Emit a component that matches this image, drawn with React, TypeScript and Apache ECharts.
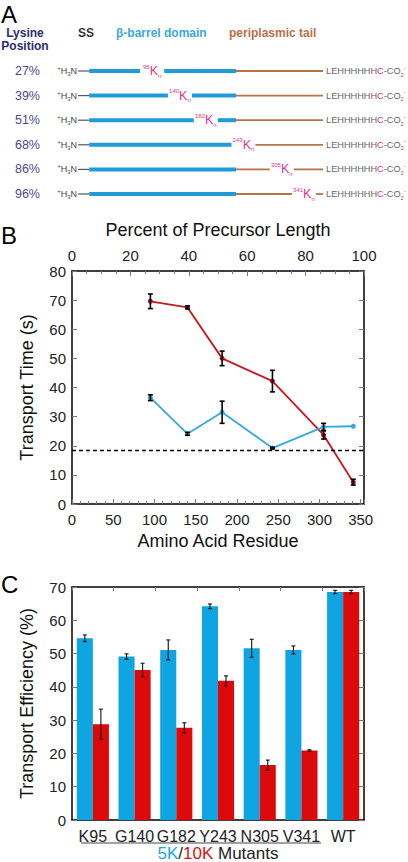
import React, { useEffect, useRef } from 'react';
import * as echarts from 'echarts';

const FONT = '"Liberation Sans", Arial, Helvetica, sans-serif';

// Panel A: lysine placement schematic
const lysinePositions = ['27%', '39%', '51%', '68%', '86%', '96%'];
const lysineResidues = [95, 140, 182, 243, 305, 341];
// schematic segment boundaries on the residue axis
const ssStart = -25;
const barrelStart = -7;
const barrelEnd = 231;
const tailEnd = 372;

// Panel B: transport time vs lysine position
const residues = [95, 140, 182, 243, 305, 341];
const time10K = [69.6, 67.5, 50.0, 42.2, 23.7, 7.5];
const err10K = [2.5, 0.5, 2.5, 3.7, 1.4, 1.0];
const time5K = [36.5, 24.1, 31.5, 19.2, 26.5, 26.7];
const err5K = [1.0, 0.5, 3.8, 0.3, 1.2, 0];
const wtBaseline = 18.4;

// Panel C: transport efficiency
const mutants = ['K95', 'G140', 'G182', 'Y243', 'N305', 'V341', 'WT'];
const eff5K = [54.6, 49.1, 51.1, 64.2, 51.6, 51.1, 68.5];
const effErr5K = [1.0, 0.8, 3.0, 0.7, 2.7, 1.2, 0.5];
const eff10K = [28.8, 45.1, 27.7, 41.8, 16.5, 20.9, 68.5];
const effErr10K = [4.5, 2.0, 1.5, 1.5, 1.5, 0.2, 0.5];

const BLUE_A = '#1f9bd8';
const BROWN = '#b7714b';
const MAGENTA = '#e0338a';
const RED_LINE = '#c8181e';
const BLUE_LINE = '#35a8de';
const BLUE_BAR = '#0ea5e2';
const RED_BAR = '#dc0a0a';
const BAR_GAP = 0.23;

function cut(a0: number, a1: number, g0: number, g1: number) {
  const out: number[][] = [];
  if (g0 > a0) out.push([a0, Math.min(a1, g0)]);
  if (g1 < a1) out.push([Math.max(a0, g1), a1]);
  return out.filter((s) => s[1] > s[0]);
}

const axisBase = {
  axisLine: { show: true, onZero: false, lineStyle: { color: '#000', width: 1.5 } },
  axisTick: { show: true, inside: true, length: 5, lineStyle: { color: '#777', width: 1 } },
  axisLabel: { color: '#222', fontSize: 15, fontFamily: FONT },
  splitLine: { show: false },
  nameTextStyle: { color: '#111', fontSize: 18, fontFamily: FONT },
};

export default function App() {
  const ref = useRef<HTMLDivElement>(null);
  useEffect(() => {
    if (!ref.current) return;
    const chart = echarts.init(ref.current, null, { renderer: 'svg' });

    const schematicItem = (params: any, api: any) => {
      const res = api.value(0);
      const row = api.value(1);
      const y = api.coord([0, row])[1];
      const px = (v: number) => api.coord([v, row])[0];
      const xSS = px(ssStart);
      const xB0 = px(barrelStart);
      const xB1 = px(barrelEnd);
      const xT = px(tailEnd);
      const xK = px(res);
      const g0 = xK - 12;
      const g1 = xK + 12;
      const children: any[] = [];
      children.push({
        type: 'line',
        shape: { x1: xSS, y1: y, x2: xB0, y2: y },
        style: { stroke: '#555', lineWidth: 1.2 },
      });
      cut(xB0, xB1, g0, g1).forEach((s) =>
        children.push({
          type: 'rect',
          shape: { x: s[0], y: y - 2, width: s[1] - s[0], height: 4 },
          style: { fill: BLUE_A },
        })
      );
      cut(xB1, xT, g0, g1).forEach((s) =>
        children.push({
          type: 'line',
          shape: { x1: s[0], y1: y, x2: s[1], y2: y },
          style: { stroke: BROWN, lineWidth: 1.8 },
        })
      );
      children.push({
        type: 'text',
        x: xSS - 1,
        y: y,
        style: {
          text: '{s|+}{m|H}{b|3}{m|N}',
          align: 'right',
          verticalAlign: 'middle',
          rich: {
            m: { fontSize: 9, fontFamily: FONT, fill: '#444', lineHeight: 12 },
            s: { fontSize: 6, fontFamily: FONT, fill: '#444', verticalAlign: 'top', lineHeight: 7 },
            b: { fontSize: 6, fontFamily: FONT, fill: '#444', verticalAlign: 'bottom', lineHeight: 7 },
          },
        },
      });
      children.push({
        type: 'text',
        x: xK,
        y: y,
        style: {
          text: `{s|${res}}{k|K}{b|n}`,
          align: 'center',
          verticalAlign: 'middle',
          rich: {
            k: { fontSize: 12.5, fontFamily: FONT, fill: MAGENTA, lineHeight: 15 },
            s: { fontSize: 6, fontFamily: FONT, fill: MAGENTA, verticalAlign: 'top', lineHeight: 7 },
            b: { fontSize: 6, fontFamily: FONT, fill: MAGENTA, verticalAlign: 'bottom', lineHeight: 7 },
          },
        },
      });
      children.push({
        type: 'text',
        x: xT + 3,
        y: y,
        style: {
          text: '{m|LEHHHHHH}{c|C}{m|-CO}{b|2}{s|-}',
          align: 'left',
          verticalAlign: 'middle',
          rich: {
            m: { fontSize: 9.2, fontFamily: FONT, fill: '#666', lineHeight: 13 },
            c: { fontSize: 9.2, fontFamily: FONT, fill: MAGENTA, lineHeight: 13 },
            s: { fontSize: 5.5, fontFamily: FONT, fill: '#666', verticalAlign: 'top', lineHeight: 7 },
            b: { fontSize: 5.5, fontFamily: FONT, fill: '#666', verticalAlign: 'bottom', lineHeight: 7 },
          },
        },
      });
      return { type: 'group', children };
    };

    const errItemB = (params: any, api: any) => {
      const x = api.value(0);
      const v = api.value(1);
      const e = api.value(2);
      const cx = api.coord([x, v])[0];
      const yt = api.coord([x, v + e])[1];
      const yb = api.coord([x, v - e])[1];
      const st = { stroke: '#000', lineWidth: 1.6 };
      return {
        type: 'group',
        children: [
          { type: 'line', shape: { x1: cx, y1: yt, x2: cx, y2: yb }, style: st },
          { type: 'line', shape: { x1: cx - 2.5, y1: yt, x2: cx + 2.5, y2: yt }, style: st },
          { type: 'line', shape: { x1: cx - 2.5, y1: yb, x2: cx + 2.5, y2: yb }, style: st },
        ],
      };
    };

    const errItemC = (params: any, api: any) => {
      const ci = api.value(0);
      const v = api.value(1);
      const e = api.value(2);
      const side = api.value(3);
      const band = api.size([1, 0])[0];
      const bw = (band * (1 - BAR_GAP)) / 2;
      const cx = api.coord([ci, v])[0] + (side ? bw / 2 : -bw / 2);
      const yt = api.coord([ci, v + e])[1];
      const yb = api.coord([ci, v - e])[1];
      const st = { stroke: '#111', lineWidth: 1.1 };
      return {
        type: 'group',
        children: [
          { type: 'line', shape: { x1: cx, y1: yt, x2: cx, y2: yb }, style: st },
          { type: 'line', shape: { x1: cx - 2, y1: yt, x2: cx + 2, y2: yt }, style: st },
          { type: 'line', shape: { x1: cx - 2, y1: yb, x2: cx + 2, y2: yb }, style: st },
        ],
      };
    };

    const header = (text: string, x: number, y: number, color: string, align = 'left') => ({
      type: 'text',
      x,
      y,
      style: {
        text,
        fill: color,
        font: `bold 12px ${FONT}`,
        align,
        verticalAlign: 'middle',
      },
    });

    const letter = (text: string, y: number) => ({
      type: 'text',
      x: 1,
      y,
      style: { text, fill: '#000', font: `24px ${FONT}`, align: 'left', verticalAlign: 'middle' },
    });

    const option: any = {
      animation: false,
      backgroundColor: '#fff',
      textStyle: { fontFamily: FONT },
      grid: [
        { left: 75, width: 253, top: 58.7, height: 147.6 },
        { left: 72, width: 292, top: 271, height: 233 },
        { left: 72, width: 292, top: 271, height: 233 },
        { left: 72, width: 292, top: 587, height: 233 },
      ],
      xAxis: [
        { gridIndex: 0, type: 'value', min: -30, max: 380, show: false },
        {
          ...axisBase,
          gridIndex: 1,
          type: 'value',
          position: 'bottom',
          min: 0,
          max: 354,
          interval: 50,
          axisLabel: {
            ...axisBase.axisLabel,
            margin: 8,
            formatter: (v: number) => (v % 50 === 0 ? String(v) : ''),
          },
          name: 'Amino Acid Residue',
          nameLocation: 'middle',
          nameGap: 28,
        },
        {
          ...axisBase,
          gridIndex: 1,
          type: 'value',
          position: 'top',
          min: 0,
          max: 100,
          interval: 20,
          minorTick: { show: true, splitNumber: 4, length: 3, lineStyle: { color: '#777' } },
          axisLabel: { ...axisBase.axisLabel, margin: 8 },
          name: 'Percent of Precursor Length',
          nameLocation: 'middle',
          nameGap: 32,
        },
        {
          gridIndex: 2,
          type: 'value',
          position: 'bottom',
          min: 0,
          max: 354,
          interval: 10,
          axisLine: { show: false, onZero: false },
          axisTick: { show: true, inside: true, length: 3, lineStyle: { color: '#777' } },
          axisLabel: { show: false },
          splitLine: { show: false },
        },
        {
          ...axisBase,
          gridIndex: 3,
          type: 'category',
          data: mutants,
          position: 'bottom',
          axisTick: { show: false },
          axisLabel: { ...axisBase.axisLabel, fontSize: 16, margin: 8, interval: 0 },
        },
        {
          ...axisBase,
          gridIndex: 3,
          type: 'category',
          data: mutants,
          position: 'top',
          axisTick: { show: true, inside: true, length: 4, lineStyle: { color: '#777' } },
          axisLabel: { show: false },
        },
      ],
      yAxis: [
        {
          gridIndex: 0,
          type: 'category',
          data: lysinePositions,
          inverse: true,
          axisLine: { show: false },
          axisTick: { show: false },
          axisLabel: { margin: 35, color: '#4b4a88', fontSize: 12.5, fontFamily: FONT },
        },
        {
          ...axisBase,
          gridIndex: 1,
          type: 'value',
          position: 'left',
          min: 0,
          max: 80,
          interval: 10,
          axisLabel: { ...axisBase.axisLabel, margin: 6 },
          name: 'Transport Time (s)',
          nameLocation: 'middle',
          nameGap: 36,
        },
        {
          ...axisBase,
          gridIndex: 1,
          type: 'value',
          position: 'right',
          min: 0,
          max: 80,
          interval: 10,
          axisLabel: { show: false },
        },
        { gridIndex: 2, type: 'value', min: 0, max: 80, show: false },
        {
          ...axisBase,
          gridIndex: 3,
          type: 'value',
          position: 'left',
          min: 0,
          max: 70,
          interval: 10,
          axisLabel: { ...axisBase.axisLabel, margin: 6 },
          name: 'Transport Efficiency (%)',
          nameLocation: 'middle',
          nameGap: 36,
        },
        {
          ...axisBase,
          gridIndex: 3,
          type: 'value',
          position: 'right',
          min: 0,
          max: 70,
          interval: 10,
          axisLabel: { show: false },
        },
      ],
      series: [
        {
          type: 'custom',
          name: 'schematic',
          xAxisIndex: 0,
          yAxisIndex: 0,
          data: lysineResidues.map((r, i) => [r, i]),
          renderItem: schematicItem,
          clip: false,
          silent: true,
        },
        {
          type: 'line',
          name: '10K',
          xAxisIndex: 1,
          yAxisIndex: 1,
          data: residues.map((r, i) => [r, time10K[i]]),
          symbol: 'circle',
          symbolSize: 5,
          lineStyle: { color: RED_LINE, width: 1.8 },
          itemStyle: { color: '#a31218' },
        },
        {
          type: 'line',
          name: '5K',
          xAxisIndex: 1,
          yAxisIndex: 1,
          data: residues.map((r, i) => [r, time5K[i]]),
          symbol: 'circle',
          symbolSize: 5,
          lineStyle: { color: BLUE_LINE, width: 1.8 },
          itemStyle: { color: BLUE_LINE },
          markLine: {
            silent: true,
            symbol: 'none',
            label: { show: false },
            lineStyle: { type: [4, 3], color: '#000', width: 1.3 },
            data: [{ yAxis: wtBaseline }],
          },
        },
        {
          type: 'custom',
          name: 'err10K',
          xAxisIndex: 1,
          yAxisIndex: 1,
          data: residues.map((r, i) => [r, time10K[i], err10K[i]]).filter((d) => d[2] > 0),
          renderItem: errItemB,
          z: 5,
        },
        {
          type: 'custom',
          name: 'err5K',
          xAxisIndex: 1,
          yAxisIndex: 1,
          data: residues.map((r, i) => [r, time5K[i], err5K[i]]).filter((d) => d[2] > 0),
          renderItem: errItemB,
          z: 5,
        },
        {
          type: 'bar',
          name: '5K',
          xAxisIndex: 4,
          yAxisIndex: 4,
          data: eff5K,
          barGap: '0%',
          barCategoryGap: `${BAR_GAP * 100}%`,
          itemStyle: { color: BLUE_BAR },
        },
        {
          type: 'bar',
          name: '10K',
          xAxisIndex: 4,
          yAxisIndex: 4,
          data: eff10K,
          barGap: '0%',
          barCategoryGap: `${BAR_GAP * 100}%`,
          itemStyle: { color: RED_BAR },
        },
        {
          type: 'custom',
          name: 'errC',
          xAxisIndex: 4,
          yAxisIndex: 4,
          data: [
            ...eff5K.map((v, i) => [i, v, effErr5K[i], 0]),
            ...eff10K.map((v, i) => [i, v, effErr10K[i], 1]),
          ],
          renderItem: errItemC,
          z: 5,
        },
      ],
      graphic: [
        letter('A', 14),
        letter('B', 235),
        letter('C', 584),
        header('Lysine', 25, 33, '#2d2b6f', 'center'),
        header('Position', 25, 46, '#2d2b6f', 'center'),
        header('SS', 78, 33, '#333'),
        header('β-barrel domain', 116, 33, '#3aa8dd'),
        header('periplasmic tail', 229, 33, BROWN),
        {
          type: 'line',
          shape: { x1: 81, y1: 843, x2: 321, y2: 843 },
          style: { stroke: '#444', lineWidth: 1 },
        },
        {
          type: 'text',
          x: 218,
          y: 853,
          style: {
            text: '{b|5K}{k|/}{r|10K}{k| Mutants}',
            align: 'center',
            verticalAlign: 'middle',
            rich: {
              b: { fill: '#1aa6e0', fontSize: 17, fontFamily: FONT, lineHeight: 17 },
              r: { fill: '#e01010', fontSize: 17, fontFamily: FONT, lineHeight: 17 },
              k: { fill: '#222', fontSize: 17, fontFamily: FONT, lineHeight: 17 },
            },
          },
        },
      ],
    };

    chart.setOption(option);
    return () => chart.dispose();
  }, []);

  return (
    <div
      ref={ref}
      style={{ position: 'absolute', left: 0, top: 0, width: 408, height: 862, background: '#fff' }}
    />
  );
}
